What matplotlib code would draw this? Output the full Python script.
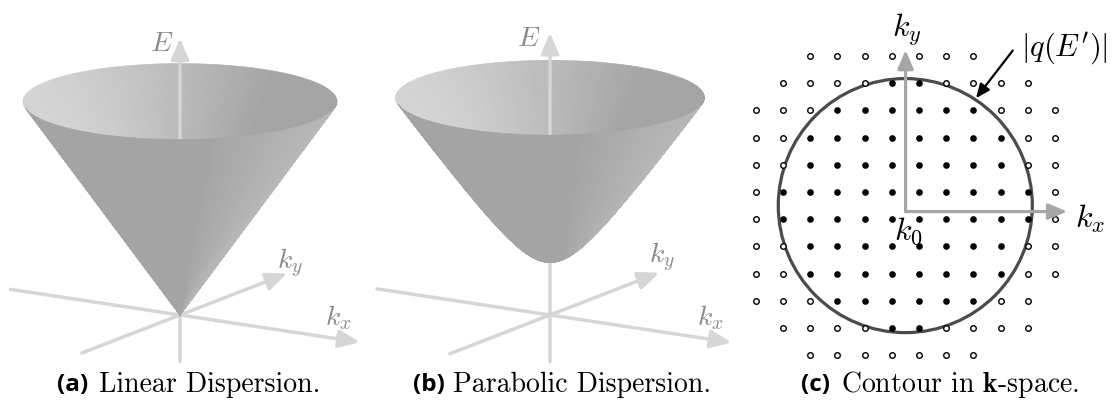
import numpy as np
import matplotlib
matplotlib.use("Agg")
import matplotlib.pyplot as plt
from matplotlib.collections import PolyCollection
from matplotlib.patches import Circle

W, H = 1116, 407
plt.rcParams['mathtext.fontset'] = 'cm'

# view of the two dispersion surfaces (orthographic)
elev = np.radians(14)
azim = np.radians(58)

# surface sizes (screen pixel units)
cone_radius = 157.0
cone_top = 220.0
para_radius = 154.5
para_top = 224.0
para_gap = 55.0

# axis extents (kx, ky, E) for panels (a) and (b)
kx_a, ky_a, E_a = (-200, 212), (-185, 202), (-48, 285)
kx_b, ky_b, E_b = (-204, 214), (-189, 206), (-48, 291)

# label positions (projected units, origin at k = 0)
labels_a = {'E': (-18, 272), 'ky': (110, 52), 'kx': (158, -3)}
labels_b = {'E': (-21, 277), 'ky': (112, 58), 'kx': (160, -3)}

# lattice of k-points for panel (c): x = inside contour, o = outside, . = none
grid_rows = [
    "..ooooooo...",
    ".ooooxxoooo.",
    "oooxxxxxxooo",
    "ooxxxxxxxxoo",
    "ooxxxxxxxxoo",
    "oxxxxxxxxxxo",
    "oxxxxxxxxxxo",
    "ooxxxxxxxxoo",
    "ooxxxxxxxxoo",
    "oooxxxxxxoo.",
    ".ooooxxoooo.",
    "..ooooooo...",
]
contour_center = (5.5, 5.5)
contour_radius = 4.67
k0 = (5.51, 5.72)
kx_tip = 11.45
ky_tip = -0.22

r_vec = np.array([np.sin(azim), np.cos(azim), 0.0])
u_vec = np.array([-np.cos(azim) * np.sin(elev), np.sin(azim) * np.sin(elev), np.cos(elev)])
w_vec = np.cross(r_vec, u_vec)
light = 0.8 * r_vec + 0.4 * u_vec + 0.3 * w_vec
light /= np.linalg.norm(light)

axis_grey = '#d6d6d6'
label_grey = '#8a8a8a'


def proj(p):
    p = np.asarray(p, dtype=float)
    return np.stack([p @ r_vec, p @ u_vec], axis=-1)


def px_axes(fig, x0, y0, x1, y1):
    ax = fig.add_axes([x0 / W, 1 - y1 / H, (x1 - x0) / W, (y1 - y0) / H])
    ax.axis('off')
    return ax


def arrow(ax, start, end, color, lw, z, scale=17):
    ax.annotate('', xy=end, xytext=start, zorder=z,
                arrowprops=dict(arrowstyle='-|>,head_length=0.75,head_width=0.32',
                                color=color, lw=lw, mutation_scale=scale,
                                shrinkA=0, shrinkB=0))


def draw_surface(ax, radius, energy):
    rr = np.linspace(0, radius, 60)
    tt = np.linspace(0, 2 * np.pi, 241)
    R, T = np.meshgrid(rr, tt)
    P = np.stack([R * np.cos(T), R * np.sin(T), energy(R)], axis=-1)
    a = P[:-1, :-1]
    b = P[1:, :-1]
    c = P[1:, 1:]
    d = P[:-1, 1:]
    quads = np.stack([a, b, c, d], axis=2).reshape(-1, 4, 3)
    n = np.cross(c - a, d - b).reshape(-1, 3)
    n /= np.linalg.norm(n, axis=1, keepdims=True) + 1e-12
    n[n[:, 2] > 0] *= -1  # outward normal points down/out
    front = n @ w_vec > 0
    n_vis = np.where(front[:, None], n, -n)
    shade = np.clip(n_vis @ light, 0, None)
    grey = (164 + 48 * shade) / 255
    cols = np.stack([grey, grey, grey, np.ones_like(grey)], axis=1)
    depth = quads.mean(axis=1) @ w_vec
    verts2d = proj(quads)
    for mask, z in ((~front, 2), (front, 4)):
        idx = np.where(mask)[0]
        idx = idx[np.argsort(depth[idx])]
        pc = PolyCollection(verts2d[idx], facecolors=cols[idx], edgecolors=cols[idx],
                            linewidths=0.4, zorder=z)
        ax.add_collection(pc)


def draw_axes3d(ax, kx, ky, E, labels):
    arrow(ax, proj([kx[0], 0, 0]), proj([kx[1], 0, 0]), axis_grey, 2.5, 1)
    arrow(ax, proj([0, ky[0], 0]), proj([0, ky[1], 0]), axis_grey, 2.5, 1)
    arrow(ax, proj([0, 0, E[0]]), proj([0, 0, E[1]]), axis_grey, 2.5, 3)
    for key, tex in (('E', r'$E$'), ('ky', r'$k_y$'), ('kx', r'$k_x$')):
        ax.text(*labels[key], tex, color=label_grey, fontsize=20, ha='center', va='center')


fig = plt.figure(figsize=(W / 100, H / 100), dpi=100)

# (a) linear dispersion
ax = px_axes(fig, 0, 0, 372, 370)
ax.set_xlim(-180, 192)
ax.set_ylim(-55, 315)
draw_surface(ax, cone_radius, lambda r: cone_top / cone_radius * r)
draw_axes3d(ax, kx_a, ky_a, E_a, labels_a)

# (b) parabolic dispersion
ax = px_axes(fig, 372, 0, 744, 370)
ax.set_xlim(-178, 194)
ax.set_ylim(-55, 315)
slope2 = (para_top ** 2 - para_gap ** 2) / para_radius ** 2
draw_surface(ax, para_radius, lambda r: np.sqrt(para_gap ** 2 + slope2 * r ** 2))
draw_axes3d(ax, kx_b, ky_b, E_b, labels_b)

# (c) contour in k-space
ax = px_axes(fig, 744, 0, 1116, 370)
ax.set_xlim((744 - 755.7) / 27.2, (1116 - 755.7) / 27.2)
ax.set_ylim((370 - 56) / 27.2, -56 / 27.2)
fi, fj, oi, oj = [], [], [], []
for j, row in enumerate(grid_rows):
    for i, ch in enumerate(row):
        if ch == 'x':
            fi.append(i); fj.append(j)
        elif ch == 'o':
            oi.append(i); oj.append(j)
ax.add_patch(Circle(contour_center, contour_radius, fill=False, ec='#4b4b4b', lw=2.3, zorder=2))
ax.scatter(fi, fj, s=23, c='black', lw=0, zorder=3)
ax.scatter(oi, oj, s=16, facecolors='white', edgecolors='black', lw=1.0, zorder=3)
arrow(ax, k0, (k0[0], ky_tip), '#a6a6a6', 2.3, 4, scale=15)
arrow(ax, k0, (kx_tip, k0[1]), '#a6a6a6', 2.3, 4, scale=15)
ax.text(5.55, -0.95, r'$k_y$', fontsize=23, ha='center', va='center')
ax.text(12.3, 6.0, r'$k_x$', fontsize=23, ha='center', va='center')
ax.text(5.6, 6.45, r'$k_0$', fontsize=23, ha='center', va='center', zorder=5)
ax.text(11.35, -0.3, r"$|q(E')|$", fontsize=22, ha='center', va='center')
ax.annotate('', xy=(8.1, 1.55), xytext=(9.45, -0.2), zorder=5,
            arrowprops=dict(arrowstyle='-|>,head_length=0.7,head_width=0.3', color='black',
                            lw=1.6, mutation_scale=12, shrinkA=0, shrinkB=0))

# captions
cy = 1 - 385 / H
caps = [(88, 99, '(a)', 'Linear Dispersion.'),
        (445, 453, '(b)', 'Parabolic Dispersion.'),
        (830, 841, '(c)', r'Contour in $\mathbf{k}$-space.')]
for xr, xl, tag, txt in caps:
    fig.text(xr / W, cy, tag, fontsize=17.5, fontweight='bold', family='Open Sans',
             ha='right', va='center')
    fig.text(xl / W, cy, txt, fontsize=20, family='cmr10', ha='left', va='center')

fig.savefig('out.png', dpi=100, facecolor='white')
